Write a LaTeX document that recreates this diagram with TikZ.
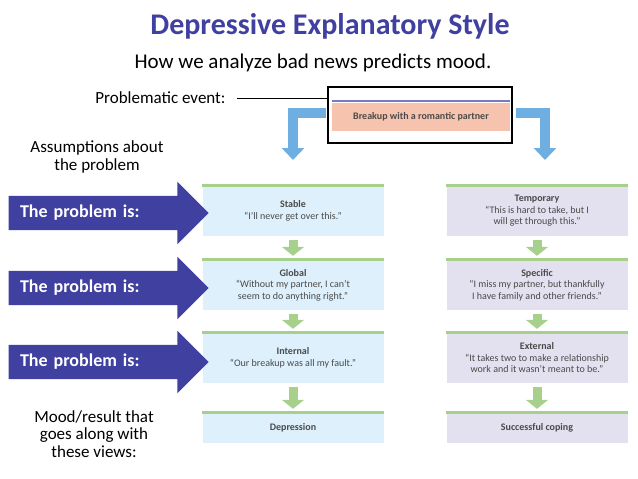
\documentclass[tikz,border=0pt]{standalone}
\usepackage{fontspec}
\setmainfont{Carlito}
\usetikzlibrary{arrows.meta,shapes.arrows}
\definecolor{navy}{HTML}{4040A0}
\definecolor{skyline}{HTML}{6FAEE0}
\definecolor{paleblue}{HTML}{DDF0FB}
\definecolor{palelilac}{HTML}{E3E0F0}
\definecolor{leaf}{HTML}{A6D08C}
\definecolor{salmon}{HTML}{F6C4AE}
\definecolor{boxtext}{HTML}{4A4A4A}
\tikzset{
  stage/.style={minimum width=181pt,minimum height=50pt,inner sep=2pt,align=center,
    text=boxtext,font=\fontsize{10}{11.5}\selectfont},
  gloomy/.style={stage,fill=paleblue},
  hopeful/.style={stage,fill=palelilac},
  topline/.style={draw=leaf,line width=3pt},
  nextarrow/.style={draw=leaf,line width=9pt,-{Triangle[width=22pt,length=9pt]},shorten <=4pt,shorten >=4pt},
  branch/.style={draw=skyline,line width=10pt,-{Triangle[width=22pt,length=12pt]}},
  problem/.style={single arrow,fill=navy,text=white,minimum height=200pt,minimum width=62pt,
    single arrow head extend=14pt,text height=13pt,text depth=4pt,inner ysep=8.5pt,inner xsep=4pt,
    text width=160pt,align=left,font=\fontsize{18}{20}\selectfont\bfseries},
  sidetext/.style={align=center,font=\fontsize{17}{17.5}\selectfont}
}
\begin{document}
\begin{tikzpicture}[x=1pt,y=-1pt]
  \useasboundingbox (0,0) rectangle (638,479);
  \node[font=\fontsize{30}{32}\selectfont\bfseries,text=navy] (Title) at (330,26) {Depressive Explanatory Style};
  \node[font=\fontsize{21}{23}\selectfont] (Subtitle) at (313,63) {How we analyze bad news predicts mood.};

  % the event
  \node[anchor=east,font=\fontsize{17}{19}\selectfont] (Label) at (229,98) {Problematic event:};
  \node[draw,line width=1.2pt,minimum width=184pt,minimum height=56pt] (Event) at (420,115) {};
  \fill[salmon] (332,103) rectangle (510,131);
  \draw[navy!70,line width=2pt] (332,101) -- (510,101);
  \node[text=boxtext,font=\fontsize{10}{12}\selectfont\bfseries] (Breakup) at (421,117) {Breakup with a romantic partner};
  \draw[line width=1pt] (Label.east) ++(8,0) -- (Event.west |- Label.east);
  \coordinate (L0) at (326,113);
  \coordinate (R0) at (516,113);
  \draw[branch] (L0) -| (293,160);
  \draw[branch] (R0) -| (545,160);

  % left column
  \node[gloomy] (Stable) at (293,211) {\textbf{Stable}\\``I'll never get over this.''};
  \node[gloomy] (Global) at (293,285) {\textbf{Global}\\``Without my partner, I can't\\seem to do anything right.''};
  \node[gloomy] (Internal) at (293,358) {\textbf{Internal}\\``Our breakup was all my fault.''};
  \node[gloomy,minimum height=30pt] (Depression) at (293,428) {\textbf{Depression}};
  % right column
  \node[hopeful] (Temporary) at (537,211) {\textbf{Temporary}\\``This is hard to take, but I\\will get through this.''};
  \node[hopeful] (Specific) at (537,285) {\textbf{Specific}\\``I miss my partner, but thankfully\\I have family and other friends.''};
  \node[hopeful] (External) at (537,358) {\textbf{External}\\``It takes two to make a relationship\\work and it wasn't meant to be.''};
  \node[hopeful,minimum height=30pt] (Coping) at (537,428) {\textbf{Successful coping}};

  \foreach \n in {Stable,Global,Internal,Depression,Temporary,Specific,External,Coping}
    \draw[topline] (\n.north west) -- (\n.north east);
  \draw[nextarrow] (Stable) -- (Global);
  \draw[nextarrow] (Global) -- (Internal);
  \draw[nextarrow] (Internal) -- (Depression);
  \draw[nextarrow] (Temporary) -- (Specific);
  \draw[nextarrow] (Specific) -- (External);
  \draw[nextarrow] (External) -- (Coping);

  % left labels
  \node[sidetext] (Assume) at (97,157) {Assumptions about\\the problem};
  \node[problem] (P1) at (100,213) {The problem is:};
  \node[problem] (P2) at (100,288) {The problem is:};
  \node[problem] (P3) at (100,362) {The problem is:};
  \node[sidetext] (Mood) at (94,434) {Mood/result that\\goes along with\\these views:};
\end{tikzpicture}
\end{document}
